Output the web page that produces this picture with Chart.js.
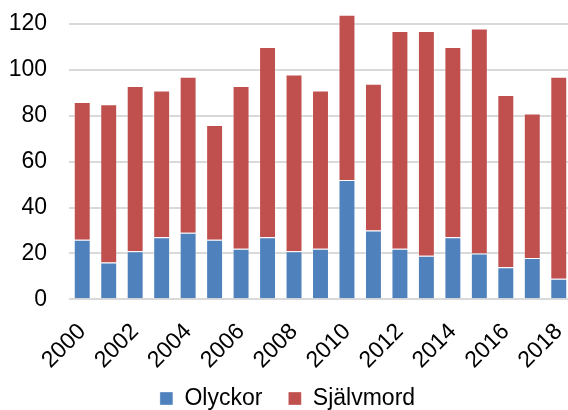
<!DOCTYPE html>
<html>
<head>
<meta charset="utf-8">
<script src="https://cdn.jsdelivr.net/npm/chart.js@4"></script>
<style>
html,body{margin:0;padding:0;background:#fff;overflow:hidden;}
#wrap{width:572px;height:410px;position:relative;}
</style>
</head>
<body>
<div id="wrap"><canvas id="c"></canvas></div>
<script>
const years = ['2000','2001','2002','2003','2004','2005','2006','2007','2008','2009','2010','2011','2012','2013','2014','2015','2016','2017','2018'];
const olyckor = [26,16,21,27,29,26,22,27,21,22,52,30,22,19,27,20,14,18,9];
const sjalvmord = [60,69,72,64,68,50,71,83,77,69,72,64,95,98,83,98,75,63,88];
const yTicks = [0,20,40,60,80,100,120];

const font = {family: "'Liberation Sans', Arial, sans-serif", size: 23};

const layoutTweak = {
  id: 'layoutTweak',
  afterLayout(chart) {
    if (chart.legend) { chart.legend.right -= 6; }
    if (chart.scales.x) { chart.scales.x.bottom += 60; }
  }
};

new Chart(document.getElementById('c'), {
  type: 'bar',
  data: {
    labels: years,
    datasets: [
      {label: 'Olyckor', data: olyckor, backgroundColor: '#4F81BD', borderColor: 'rgba(255,255,255,0.35)', borderWidth: 1, clip: false},
      {label: 'Självmord', data: sjalvmord, backgroundColor: '#C0504D', borderColor: 'rgba(255,255,255,0.35)', borderWidth: 1, clip: false}
    ]
  },
  plugins: [layoutTweak],
  options: {
    responsive: true,
    maintainAspectRatio: false,
    animation: false,
    datasets: {bar: {barPercentage: 0.64, categoryPercentage: 1}},
    layout: {padding: {left: 9, right: 0, top: 24, bottom: -10}},
    plugins: {
      legend: {
        position: 'bottom',
        labels: {boxWidth: 13, boxHeight: 13, font: font, color: '#000', padding: 26}
      },
      tooltip: {enabled: false}
    },
    scales: {
      x: {
        stacked: true,
        grid: {display: false},
        border: {display: false},
        afterFit: function(s){ s.paddingLeft = 0; s.paddingRight = 0; s.paddingTop = 0; s.paddingBottom = 0; s.height -= 24; },
        ticks: {
          font: font, color: '#000', autoSkip: false, maxRotation: 45, minRotation: 45, padding: 11,
          callback: function(v, i){ return i % 2 === 0 ? years[i] : ''; }
        }
      },
      y: {
        stacked: true,
        min: 0, max: 120,
        afterBuildTicks: function(s){ s.ticks = yTicks.map(v => ({value: v})); },
        afterFit: function(s){ s.width = 60; s.paddingTop = 0; s.paddingBottom = 0; },
        grid: {color: '#d9d9d9', lineWidth: 2, drawTicks: false},
        border: {display: false},
        ticks: {font: font, color: '#000', padding: 22}
      }
    }
  }
});
</script>
</body>
</html>
